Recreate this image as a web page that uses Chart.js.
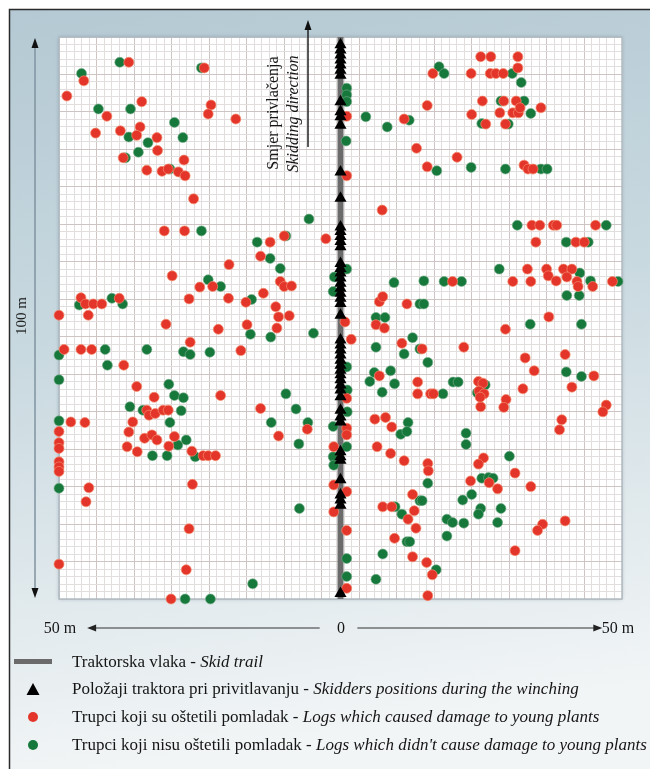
<!DOCTYPE html>
<html>
<head>
<meta charset="utf-8">
<script src="https://cdn.jsdelivr.net/npm/chart.js@4.4.1/dist/chart.umd.min.js"></script>
<style>
html, body { margin: 0; padding: 0; background: #fff; }
#wrap { position: relative; width: 650px; height: 769px; overflow: hidden; }
#c { position: absolute; left: 0; top: 0; }
.t { position: absolute; font-family: "Liberation Serif", "Times New Roman", serif; font-size: 16px; color: #151515; white-space: nowrap; line-height: 16px; }
.t i { font-style: italic; }
.lg { font-size: 17px; line-height: 17px; }
.mid { transform: translate(-50%, -50%); }
.rot { transform: translate(-50%, -50%) rotate(-90deg); }
</style>
</head>
<body>
<div id="wrap">
  <canvas id="c" width="650" height="769"></canvas>
  <div class="t rot" style="left:273px; top:113px;">Smjer privlačenja</div>
  <div class="t rot" style="left:293px; top:114px;"><i>Skidding direction</i></div>
  <div class="t rot" style="left:21px; top:316px; font-size:15px;">100 m</div>
  <div class="t mid" style="left:60px; top:628px;">50 m</div>
  <div class="t mid" style="left:341px; top:628px;">0</div>
  <div class="t mid" style="left:618px; top:628px;">50 m</div>
  <div class="t lg" style="left:72px; top:653px;">Traktorska vlaka - <i>Skid trail</i></div>
  <div class="t lg" style="left:72px; top:680px;">Položaji traktora pri privitlavanju - <i>Skidders positions during the winching</i></div>
  <div class="t lg" style="left:72px; top:708px;">Trupci koji su oštetili pomladak - <i>Logs which caused damage to young plants</i></div>
  <div class="t lg" style="left:72px; top:736px;">Trupci koji nisu oštetili pomladak - <i>Logs which didn't cause damage to young plants</i></div>
</div>
<script>
// metres across the strip (-50..50) and along it (0..100)
const trailX = [0, 0];
const trailY = [0, 100];

const skidderX = 0;
const skidderY = [98.6, 97.7, 96.8, 95.9, 95.0, 94.1, 93.2, 88.5, 86.7, 85.8, 84.3, 76.0, 71.3,
    66.2, 65.4, 64.5, 63.6, 62.7, 59.7, 58.8, 58.0, 57.1, 56.2, 55.3, 54.4, 53.5, 52.6, 50.5,
    46.1, 45.2, 44.3, 43.4, 42.5, 41.6, 40.7, 39.9, 39.0, 38.1, 37.2, 36.0, 33.6, 32.4, 31.5,
    26.2, 25.3, 24.7, 21.2, 18.5, 17.6, 16.7, 1.0];

// logs which caused damage to young plants
const redX = [-37.6, -24.2, -45.6, -48.6, -35.3, -41.5, -23.0, -23.5, -18.6, -43.5, -39.1, -35.6, -36.2, -32.6, -32.5,
    -38.6, -27.8, -34.4, -31.7, -30.6, -28.8, -27.6, -26.1, -31.3, -27.7, -19.8, -29.9, -22.7, -25.0, -26.9,
    -19.9, -16.8, -46.1, -45.3, -43.9, -42.4, -39.3, -50.0, -44.8, 1.1, 1.1, 11.3, 16.4, 15.4, 13.5,
    15.4, 7.4, -2.6, -12.5, -10.0, -14.2, -10.7, -10.0, -8.7, -13.7, -11.5, -11.0, -9.1, 6.9, 7.5,
    11.8, 24.9, 26.7, 31.5, 23.2, 26.6, 27.6, 28.9, 31.5, 25.2, 29.0, 31.2, 35.6, 23.3, 28.3,
    30.6, 31.6, 31.9, 25.8, 29.3, 20.7, 32.6, 33.3, 34.2, 34.0, 35.4, 37.8, 38.4, 45.3, 34.7,
    41.8, 43.3, 33.2, 36.6, 36.9, 39.6, 41.1, 38.3, 40.2, 42.0, 42.2, 44.8, 48.3, 19.9, 30.6,
    33.8, 37.0, -31.0, -21.7, -26.7, -49.1, -46.1, -44.2, -17.7, -38.5, -36.2, -33.1, -21.3, -34.4, -34.0,
    -32.9, -31.5, -30.6, -36.9, -47.9, -45.4, -50.0, -37.6, -34.8, -33.5, -32.6, -29.5, -30.5, -50.0, -50.0,
    -37.9, -36.1, -26.4, -24.4, -23.5, -22.2, -50.0, -50.0, -50.0, -44.7, -45.2, -26.3, -26.9, -50.0, -27.4,
    -30.1, -16.6, -11.3, 1.9, 1.1, 1.1, 1.1, -1.2, -1.2, 1.1, -1.2, 1.1, 1.1, 6.3, 7.8,
    10.9, 14.5, 6.9, 13.7, 13.7, 16.0, 16.5, 6.1, 8.0, 9.1, 6.5, 8.9, 11.3, 15.5, 15.6,
    12.8, 7.5, 9.1, 12.0, 13.1, 13.4, 9.6, 12.8, 15.3, 16.3, 15.5, -14.2, -5.9, -11.0, 29.3,
    21.9, 32.8, 34.4, 39.9, 45.0, 41.1, 32.4, 24.5, 25.3, 24.6, 25.5, 24.9, 24.8, 29.4, 29.0,
    47.2, 46.6, 39.3, 38.9, 25.4, 24.5, 31.0, 26.4, 27.9, 23.1, 33.8, 35.9, 35.0, 39.9, 31.0, 0.8];
const redY = [95.5, 94.5, 92.2, 89.5, 88.5, 85.9, 87.9, 86.3, 85.4, 82.9, 83.3, 84.0, 82.5, 82.1, 79.8,
    78.5, 78.1, 76.3, 76.1, 76.5, 76.0, 75.3, 71.2, 65.5, 65.5, 59.5, 57.5, 55.6, 55.5, 53.4,
    53.5, 52.8, 53.6, 52.5, 52.5, 52.5, 53.5, 50.5, 50.5, 85.9, 75.3, 85.4, 93.5, 87.8, 80.2,
    76.9, 69.2, 64.1, 63.5, 64.6, 61.0, 56.5, 55.6, 55.7, 54.4, 52.0, 50.2, 50.4, 52.9, 53.8,
    52.5, 96.5, 96.5, 96.5, 93.5, 93.5, 93.5, 93.5, 94.5, 88.6, 88.6, 88.6, 87.4, 86.2, 86.5,
    86.5, 86.5, 87.4, 84.5, 84.5, 78.6, 77.2, 76.5, 76.5, 66.5, 66.5, 66.5, 66.5, 66.5, 63.5,
    63.5, 63.5, 58.7, 58.7, 57.5, 58.7, 58.7, 56.6, 57.3, 56.5, 55.6, 55.6, 56.5, 56.5, 56.5,
    56.5, 50.2, 48.9, 48.0, 45.7, 44.4, 44.4, 44.4, 44.2, 41.6, 37.8, 35.9, 36.2, 33.6, 32.7,
    33.0, 33.6, 33.6, 31.5, 31.5, 31.4, 29.8, 29.7, 28.6, 29.2, 28.3, 28.9, 27.2, 27.8, 26.8,
    27.1, 26.2, 26.3, 25.5, 25.5, 25.5, 24.4, 23.5, 22.7, 19.8, 17.3, 20.4, 12.5, 6.2, 5.2,
    0.0, 48.8, 48.2, 46.2, 35.7, 30.4, 29.2, 27.1, 20.3, 19.1, 15.5, 12.2, 1.9, 48.8, 48.2,
    45.5, 44.5, 39.7, 38.6, 36.5, 36.5, 36.5, 32.0, 32.3, 30.6, 27.1, 25.9, 24.6, 24.1, 22.8,
    18.6, 16.4, 16.4, 14.2, 15.7, 12.6, 10.8, 7.5, 6.5, 4.3, 0.6, 33.9, 30.2, 29.0, 48.0,
    44.8, 42.9, 40.6, 43.5, 39.7, 37.7, 37.4, 38.7, 38.4, 37.0, 36.5, 34.2, 35.9, 35.5, 34.1,
    34.5, 33.3, 31.9, 30.1, 25.1, 24.0, 22.4, 20.7, 19.6, 21.0, 20.0, 13.3, 12.2, 13.9, 8.6, 49.3];

// logs which didn't cause damage to young plants
const greenX = [-39.2, -24.7, -46.0, -43.0, -37.3, -29.5, -37.6, -34.2, -28.0, -35.9, -38.2, -30.3, -24.7, -23.5, -21.3,
    -46.4, -40.6, -38.7, 1.1, 1.1, 1.1, 1.0, 4.5, 8.3, 12.2, 17.1, -5.6, -14.8, -9.7, -12.5,
    -10.7, -15.8, -1.1, 1.1, -1.3, 9.5, 14.8, 14.1, 14.8, 6.3, 7.9, 17.5, 18.4, 30.5, 32.1,
    28.5, 32.6, 33.8, 25.1, 29.8, 23.2, 29.3, 35.6, 36.7, 31.4, 47.2, 40.1, 44.0, 28.2, 42.5,
    44.4, 49.3, 18.4, 21.5, 40.2, 42.4, -16.0, -50.0, -41.8, -34.4, -27.9, -26.7, -23.2, -41.4, -50.0,
    -30.5, -29.5, -27.9, -37.4, -35.1, -28.3, -30.3, -50.0, -28.9, -27.4, -33.4, -30.8, -25.8, -50.0, -27.6,
    -23.1, -12.4, -4.8, 1.1, 1.2, 1.2, -1.3, 1.1, -1.3, -1.2, 1.1, 1.1, 6.3, 12.8, 11.3,
    14.1, 15.5, 6.0, 8.9, 5.2, 9.6, 7.4, 12.0, 10.7, 11.8, 15.5, 14.1, 14.5, 9.7, 10.9,
    11.8, 12.3, 7.5, 6.3, 17.0, -9.7, -7.9, -12.3, -5.8, -7.4, -7.3, -15.6, 33.7, 42.8, 40.1,
    42.8, 20.0, 20.9, 18.2, 25.7, 24.3, 22.3, 22.3, 30.0, 25.1, 26.3, 27.1, 23.3, 21.7, 24.9,
    24.5, 28.5, 27.9, 18.9, 19.9, 21.9, 18.9];
const greenY = [95.5, 94.5, 93.5, 87.2, 87.2, 84.8, 82.2, 81.2, 82.1, 79.5, 78.5, 76.5, 65.5, 56.8, 55.6,
    52.3, 53.5, 52.5, 90.9, 89.7, 88.5, 81.5, 85.8, 84.0, 85.2, 76.2, 67.6, 63.5, 64.6, 60.6,
    58.8, 53.3, 57.3, 58.7, 54.7, 56.3, 56.6, 52.5, 52.5, 50.1, 50.1, 94.7, 93.5, 93.5, 91.9,
    88.6, 88.6, 86.4, 84.6, 84.5, 76.8, 76.5, 76.5, 76.5, 66.5, 66.5, 63.5, 63.5, 58.7, 58.0,
    56.6, 56.5, 56.5, 56.5, 54.0, 54.0, 47.1, 43.4, 44.4, 44.4, 44.0, 43.5, 43.9, 41.6, 39.0,
    38.2, 36.2, 35.8, 34.2, 33.6, 33.5, 31.4, 31.7, 27.4, 28.3, 25.5, 25.5, 25.3, 19.7, 0.0,
    0.0, 46.6, 47.3, 41.3, 37.2, 33.3, 30.7, 27.1, 25.3, 23.8, 7.2, 4.0, 44.8, 46.5, 43.6,
    44.5, 42.1, 40.3, 40.6, 38.7, 38.3, 36.8, 31.4, 29.3, 29.8, 20.6, 17.5, 17.5, 16.4, 15.1,
    10.2, 10.2, 8.0, 3.5, 5.2, 36.5, 33.8, 31.4, 31.4, 27.6, 16.1, 2.7, 48.9, 48.9, 40.4,
    39.6, 38.6, 38.6, 36.5, 38.1, 36.7, 29.5, 27.5, 25.4, 21.5, 21.6, 21.5, 18.6, 17.6, 16.1,
    15.1, 16.1, 13.6, 14.2, 13.6, 13.5, 11.2];

const cRed = '#e3352a';
const cGreen = '#17783c';
const cTrail = '#6b6b6b';

const pts = (xs, ys) => xs.map((x, i) => ({ x: x, y: ys[i] }));

function arrowHead(ctx, x, y, dx, dy, len, half) {
    // tip at x,y pointing along dx,dy
    const px = -dy, py = dx;
    ctx.beginPath();
    ctx.moveTo(x, y);
    ctx.lineTo(x - dx * len + px * half, y - dy * len + py * half);
    ctx.lineTo(x - dx * len - px * half, y - dy * len - py * half);
    ctx.closePath();
    ctx.fill();
}

const deco = {
    id: 'deco',
    beforeDraw(chart) {
        const { ctx, chartArea: a, width, height } = chart;
        ctx.save();
        ctx.fillStyle = '#fff';
        ctx.fillRect(0, 0, width, height);
        const g = ctx.createLinearGradient(0, 9, 120, height);
        g.addColorStop(0, '#b4c9d3');
        g.addColorStop(0.45, '#c9d9e0');
        g.addColorStop(0.8, '#e3ebee');
        g.addColorStop(1, '#f2f5f6');
        ctx.fillStyle = g;
        ctx.fillRect(9, 9, width - 9, height - 9);
        ctx.strokeStyle = '#2a2a2a';
        ctx.lineWidth = 1.5;
        ctx.beginPath();
        ctx.moveTo(9.5, height);
        ctx.lineTo(9.5, 9.5);
        ctx.lineTo(width, 9.5);
        ctx.stroke();
        ctx.shadowColor = 'rgba(70,95,110,0.35)';
        ctx.shadowBlur = 4;
        ctx.fillStyle = '#fff';
        ctx.fillRect(a.left, a.top, a.width, a.height);
        ctx.restore();
    },
    beforeDatasetsDraw(chart) {
        const { ctx, chartArea: a } = chart;
        ctx.save();
        ctx.strokeStyle = '#aebbc2';
        ctx.lineWidth = 1.5;
        ctx.strokeRect(a.left, a.top, a.width, a.height);
        ctx.restore();
    },
    afterDraw(chart) {
        const { ctx } = chart;
        const sx = chart.scales.x, sy = chart.scales.y;
        ctx.save();
        // 100 m arrow on the left
        ctx.strokeStyle = '#7f93a0';
        ctx.lineWidth = 1.5;
        ctx.beginPath();
        ctx.moveTo(35, sy.getPixelForValue(100) + 6);
        ctx.lineTo(35, sy.getPixelForValue(0) - 6);
        ctx.stroke();
        ctx.fillStyle = '#111';
        arrowHead(ctx, 35, sy.getPixelForValue(100) + 1, 0, -1, 10, 3.5);
        arrowHead(ctx, 35, sy.getPixelForValue(0) - 1, 0, 1, 10, 3.5);

        // 50 m arrows below
        const yb = 628;
        ctx.strokeStyle = '#333';
        ctx.lineWidth = 1;
        ctx.beginPath();
        ctx.moveTo(sx.getPixelForValue(-45) + 6, yb);
        ctx.lineTo(sx.getPixelForValue(-3.7), yb);
        ctx.moveTo(sx.getPixelForValue(3), yb);
        ctx.lineTo(sx.getPixelForValue(46.5) - 6, yb);
        ctx.stroke();
        ctx.fillStyle = '#222';
        arrowHead(ctx, sx.getPixelForValue(-45), yb, -1, 0, 9, 3.5);
        arrowHead(ctx, sx.getPixelForValue(46.5), yb, 1, 0, 9, 3.5);

        // skidding direction arrow
        ctx.strokeStyle = '#222';
        ctx.lineWidth = 1.5;
        ctx.beginPath();
        ctx.moveTo(308, 147);
        ctx.lineTo(308, 28);
        ctx.stroke();
        ctx.fillStyle = '#111';
        arrowHead(ctx, 308, 20, 0, -1, 10, 3.5);

        // legend keys
        ctx.fillStyle = cTrail;
        ctx.fillRect(14, 659, 38, 5);
        ctx.fillStyle = '#000';
        ctx.beginPath();
        ctx.moveTo(33, 683);
        ctx.lineTo(39.5, 695);
        ctx.lineTo(26.5, 695);
        ctx.closePath();
        ctx.fill();
        ctx.fillStyle = cRed;
        ctx.beginPath();
        ctx.arc(33, 717, 5, 0, Math.PI * 2);
        ctx.fill();
        ctx.fillStyle = cGreen;
        ctx.beginPath();
        ctx.arc(33, 745, 5, 0, Math.PI * 2);
        ctx.fill();
        ctx.restore();
    }
};

const grid = {
    color: c => (c.index % 5 === 0 ? '#cfc4c4' : '#e3dede'),
    lineWidth: 1,
    drawTicks: false
};

new Chart(document.getElementById('c'), {
    type: 'scatter',
    data: {
        datasets: [
            {
                label: 'Skidders positions during the winching',
                data: skidderY.map(y => ({ x: skidderX, y: y })),
                pointStyle: 'triangle', pointRadius: 7, backgroundColor: '#000', borderColor: '#000', borderWidth: 0,
                clip: false
            },
            {
                label: 'Logs which caused damage to young plants',
                data: pts(redX, redY),
                pointRadius: 5, backgroundColor: cRed, borderColor: 'rgba(245,140,110,0.7)', borderWidth: 1,
                clip: false
            },
            {
                label: "Logs which didn't cause damage to young plants",
                data: pts(greenX, greenY),
                pointRadius: 5, backgroundColor: cGreen, borderColor: 'rgba(120,175,140,0.6)', borderWidth: 1,
                clip: false
            },
            {
                label: 'Skid trail',
                data: pts(trailX, trailY),
                showLine: true, borderColor: cTrail, borderWidth: 6, pointRadius: 0,
                clip: false
            }
        ]
    },
    options: {
        responsive: false, animation: false, devicePixelRatio: 1,
        layout: { padding: { left: 59, right: 28, top: 37, bottom: 170 }, autoPadding: false },
        plugins: { legend: { display: false }, tooltip: { enabled: false } },
        scales: {
            x: { type: 'linear', min: -50, max: 50, ticks: { display: false, count: 76 }, grid: grid, border: { display: false } },
            y: { type: 'linear', min: 0, max: 100, ticks: { display: false, count: 76 }, grid: grid, border: { display: false } }
        }
    },
    plugins: [deco]
});
</script>
</body>
</html>
